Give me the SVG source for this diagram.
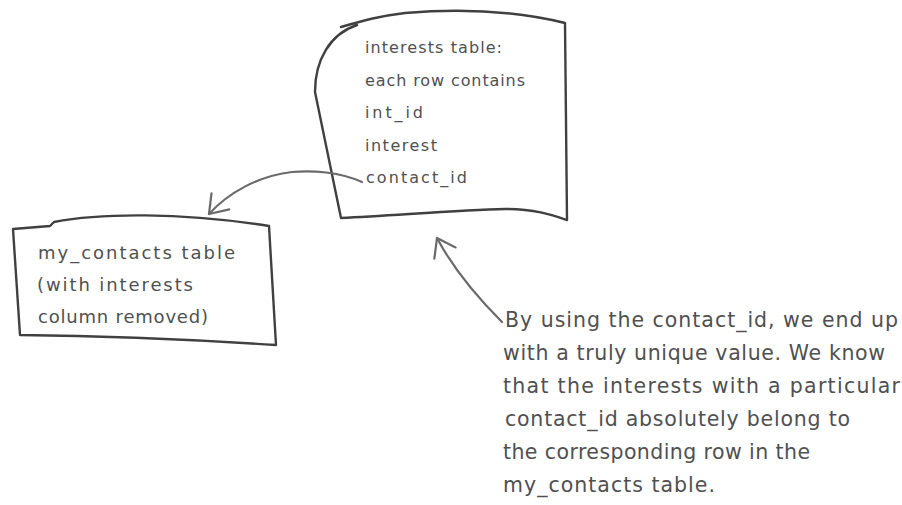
<svg xmlns="http://www.w3.org/2000/svg" width="902" height="505" viewBox="0 0 902 505">
<style>
.box{fill:none;stroke:#404040;stroke-width:2.4;stroke-linecap:round;stroke-linejoin:round}
.con{fill:none;stroke:#6a6a6a;stroke-width:2.2;stroke-linecap:round}
.t{font-family:"DejaVu Sans","Liberation Sans",sans-serif;fill:#505050}
.s16{font-size:16px}
.s18{font-size:18px}
.s20{font-size:20.5px}
</style>
<defs>
<marker id="ah" markerUnits="userSpaceOnUse" markerWidth="40" markerHeight="40" refX="0" refY="0" viewBox="-25 -20 30 40" orient="auto" overflow="visible">
<path d="M-17,-12 L0,0 L-17,12" fill="none" stroke="#6a6a6a" stroke-width="2.2" stroke-linecap="round" stroke-linejoin="round"/>
</marker>
</defs>
<rect width="902" height="505" fill="#fff"/>
<g id="interests">
<path class="box" d="M341,27 C365,20 380,16 405,13 C465,8 520,12 565,23 L567,220 C552,215 535,209 505,209 C460,210 400,215 341,218 L315,92 C315,60 330,34 357,25"/>
<text class="t s16" x="365" y="53" textLength="137">interests table:</text>
<text class="t s16" x="365" y="86" textLength="160">each row contains</text>
<text class="t s16" x="365" y="118" textLength="58">int_id</text>
<text class="t s16" x="365" y="151" textLength="72">interest</text>
<text class="t s16" x="366" y="183" textLength="101">contact_id</text>
</g>
<g id="my_contacts">
<path class="box" d="M13,229 L50,226 L54,222 C100,213 180,212 269,226 L276,345 C200,340 120,336 20,335 Z"/>
<text class="t s18" x="38" y="259" textLength="197">my_contacts table</text>
<text class="t s18" x="37" y="291" textLength="156">(with interests</text>
<text class="t s18" x="38" y="323" textLength="170">column removed)</text>
</g>
<g id="note">
<text class="t s20" x="505" y="327" textLength="393">By using the contact_id, we end up</text>
<text class="t s20" x="503" y="360" textLength="382">with a truly unique value. We know</text>
<text class="t s20" x="503" y="393" textLength="397">that the interests with a particular</text>
<text class="t s20" x="505" y="426" textLength="345">contact_id absolutely belong to</text>
<text class="t s20" x="503" y="459" textLength="307">the corresponding row in the</text>
<text class="t s20" x="503" y="492" textLength="212">my_contacts table.</text>
</g>
<g id="connectors">
<path class="con" marker-end="url(#ah)" d="M362,182 C340,172 312,170 292,172 C258,176 228,193 209,214"/>
<path class="con" marker-end="url(#ah)" d="M502,322 C482,302 455,272 437,238"/>
</g>
</svg>
